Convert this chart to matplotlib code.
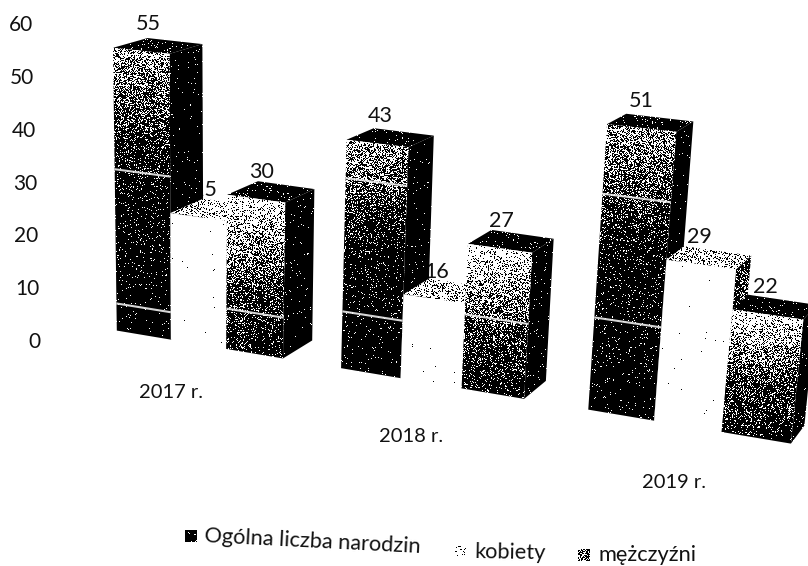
import numpy as np
import matplotlib
matplotlib.use('Agg')
import matplotlib.pyplot as plt
from matplotlib.patches import Polygon

plt.rcParams['font.family'] = ['Lato', 'DejaVu Sans']

years = ['2017 r.', '2018 r.', '2019 r.']
total = [55, 43, 51]
women = [25, 16, 29]
men = [30, 27, 22]
series_names = ['Ogólna liczba narodzin', 'kobiety', 'mężczyźni']
y_ticks = [0, 10, 20, 30, 40, 50, 60]

# white streaks from the scan, in value units, one tuple per bar
streaks_total = [(32, 5.5), (36, 11), (39, 17)]
streaks_men = [(8,), (14,), ()]

# (bar position, value) -> measured pixel, used to fit the perspective
anchors = [(0, 0, 117, 332), (1, 0, 170, 339), (3, 0, 283, 358), (7, 0, 525, 398),
           (9, 0, 653, 421), (11, 0, 790, 443), (0, 55, 114, 48), (1, 55, 169, 53),
           (2, 30, 228, 195), (3, 30, 284, 202), (4, 43, 347, 140), (5, 43, 407, 147),
           (6, 27, 470, 245), (7, 27, 532, 252), (8, 51, 607, 124), (9, 51, 675, 132),
           (10, 22, 733, 310), (11, 22, 805, 320)]

rows = []
rhs = []
for p, v, px, py in anchors:
    rows.append([p, v, 1, 0, 0, 0, -p*px, -v*px])
    rows.append([0, 0, 0, p, v, 1, -p*py, -v*py])
    rhs += [px, py]
h = np.linalg.lstsq(np.array(rows, float), np.array(rhs, float), rcond=None)[0]


def project(p, v):
    w = h[6]*p + h[7]*v + 1
    return (h[0]*p + h[1]*v + h[2])/w, (h[3]*p + h[4]*v + h[5])/w


def back(x, y, v):
    return x + 38 - 0.031*x, y - (18 - 0.15*v)


def speckle(x, y):
    n = np.sin(x*12.9898 + y*78.233)*43758.5453
    return n - np.floor(n)


def draw_face(ax, pts, light, z):
    # light is a function of pixel row, black/white dither like the scan
    pts = np.array(pts)
    x0, y0 = np.floor(pts.min(axis=0)).astype(int)
    x1, y1 = np.ceil(pts.max(axis=0)).astype(int)
    xs, ys = np.meshgrid(np.arange(x0, x1), np.arange(y0, y1))
    img = (speckle(xs + 0.5, ys + 0.5) < light(ys)).astype(float)
    im = ax.imshow(img, extent=(x0, x1, y1, y0), cmap='gray', vmin=0, vmax=1,
                   interpolation='nearest', aspect='auto', zorder=z)
    im.set_clip_path(Polygon(pts, transform=ax.transData))


def flat(value):
    return lambda ys: np.full(ys.shape, value)


def draw_bar(ax, p, v, kind, z, streaks=()):
    bl = project(p, 0)
    br = project(p + 1, 0)
    tl = project(p, v)
    tr = project(p + 1, v)
    top_y = tl[1]
    base_y = br[1]

    if kind == 'total':
        stops = ([0, 0.1, 0.3, 0.5, 1], [0.62, 0.48, 0.2, 0.07, 0.02])
        side, top = 0.015, 0.05
    elif kind == 'women':
        stops = ([0, 1], [0.998, 0.998])
        side, top = 0.25, 0.75
    else:
        stops = ([0, 0.2, 0.55, 1], [0.9, 0.7, 0.25, 0.08])
        side, top = 0.02, 0.05

    def front(ys):
        return np.interp((ys - top_y)/(base_y - top_y), stops[0], stops[1])

    brb = back(*br, 0)
    trb = back(*tr, v)
    tlb = back(*tl, v)
    draw_face(ax, [br, tr, trb, brb], flat(side), z)
    draw_face(ax, [tl, tr, trb, tlb], flat(top), z)
    draw_face(ax, [bl, br, tr, tl], front, z + 0.1)

    for s in streaks:
        a = project(p, s)
        b = project(p + 1, s)
        ax.plot([a[0], b[0]], [a[1], b[1]], color='#eeeeee', lw=1.5, alpha=0.9,
                solid_capstyle='butt', zorder=z + 0.2)


fig = plt.figure(figsize=(8.08, 5.66), dpi=100)
ax = fig.add_axes([0, 0, 1, 1])
ax.axis('off')

z = 1
for i in range(3):
    p0 = i*4
    draw_bar(ax, p0, total[i], 'total', z, streaks_total[i])
    draw_bar(ax, p0 + 1, women[i], 'women', z + 1)
    draw_bar(ax, p0 + 2, men[i], 'men', z + 2, streaks_men[i])
    for k, v, lab_z in [(0, total[i], 20), (1, women[i], 0.5), (2, men[i], 20)]:
        x, y = project(p0 + k + 0.5, v)
        ax.text(x + 9 - 0.015*x, y - 27, str(v), ha='center', va='center',
                fontsize=15.5, color='#111111', zorder=lab_z)
    z += 3

year_pos = [(171, 393), (411, 437), (674, 482)]
for lab, (x, y) in zip(years, year_pos):
    ax.text(x, y, lab, ha='center', va='center', fontsize=14.5, color='#111111')

# legend, sits on a slight slope like the scanned page
legend_pos = [(191, 536, 205, -2.9), (461, 552, 475, -1), (584, 555, 598, 0)]
legend_light = [0.08, 0.88, 0.35]
for name, (mx, my, tx, rot), lt in zip(series_names, legend_pos, legend_light):
    draw_face(ax, [(mx - 6, my - 6), (mx + 6, my - 6), (mx + 6, my + 6), (mx - 6, my + 6)],
              flat(lt), 1)
    ax.text(tx, my, name, ha='left', va='center', fontsize=15.7, color='#111111',
            rotation=rot, rotation_mode='anchor')

ax.set_xlim(0, 808)
ax.set_ylim(566, 0)

# value axis, the labels drift right going down
ay = fig.add_axes([42/808, (566 - 340)/566, 0.05, (340 - 23)/566])
ay.set_facecolor('none')
ay.set_ylim(0, 60)
ay.set_yticks(y_ticks)
ay.set_xticks([])
ay.tick_params(axis='y', length=0, labelsize=15, labelcolor='#111111')
tick_pad = [1, 2, 2.5, 3.5, 4.5, 5.5, 6.5]
for t, pad in zip(ay.yaxis.get_major_ticks(), tick_pad):
    t.set_pad(pad)
for s in ay.spines.values():
    s.set_visible(False)

plt.savefig('out.png', dpi=100)
